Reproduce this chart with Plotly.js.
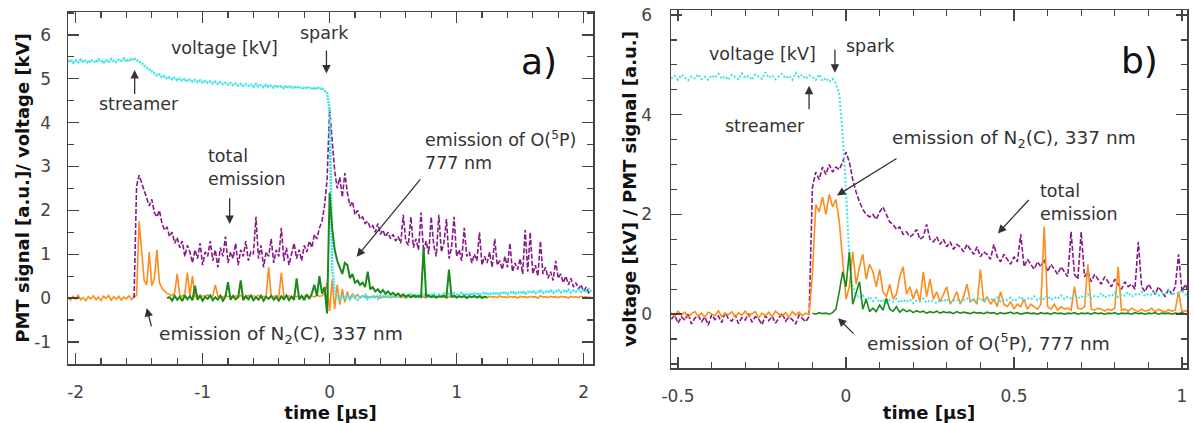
<!DOCTYPE html>
<html>
<head>
<meta charset="utf-8">
<script src="https://cdn.plot.ly/plotly-3.0.1.min.js"></script>
<style>html,body{margin:0;padding:0;background:#fff;}#chart{width:1193px;height:423px;}</style>
</head>
<body>
<div id="chart"></div>
<script>
// ---------- tick labels ----------
const xTicksA = [-2, -1, 0, 1, 2];
const xTickTextA = ['-2', '-1', '0', '1', '2'];
const yTicksA = [-1, 0, 1, 2, 3, 4, 5, 6];
const yTickTextA = ['-1', '0', '1', '2', '3', '4', '5', '6'];
const xTicksB = [-0.5, 0, 0.5, 1];
const xTickTextB = ['-0.5', '0', '0.5', '1'];
const yTicksB = [0, 2, 4, 6];
const yTickTextB = ['0', '2', '4', '6'];

// ---------- Panel a) : time grid step 0.02 µs ----------
const stepA = 0.02;
const startA_voltage = -2.06;
const startA_n2 = -2.06;
const startA_total = -1.54;
const startA_o = -1.28;

const voltageA = [
5.40,5.43,5.37,5.42,5.38,5.44,5.39,5.41,5.36,5.43,
5.40,5.38,5.44,5.41,5.37,5.42,5.39,5.45,5.40,5.38,
5.43,5.41,5.46,5.39,5.44,5.42,5.47,5.43,5.40,5.36,
5.30,5.26,5.20,5.16,5.12,5.08,5.10,5.04,5.06,5.01,
5.03,4.99,5.02,4.97,5.00,4.96,4.99,4.95,4.98,4.94,
4.97,4.93,4.96,4.92,4.95,4.91,4.94,4.90,4.93,4.89,
4.92,4.88,4.91,4.87,4.90,4.86,4.89,4.85,4.88,4.84,
4.87,4.84,4.86,4.82,4.88,4.83,4.85,4.81,4.86,4.82,
4.84,4.80,4.85,4.81,4.83,4.79,4.84,4.80,4.82,4.78,
4.83,4.79,4.81,4.77,4.82,4.78,4.80,4.76,4.81,4.77,
4.79,4.74,4.68,4.30,0.70,0.15,0.02,-0.05,0.04,-0.03,
0.05,-0.02,0.06,0.00,-0.04,0.05,0.01,0.07,-0.02,0.04,
0.02,0.06,-0.01,0.05,0.03,0.08,0.00,0.05,0.07,0.02,
0.06,0.03,0.08,0.01,0.06,0.09,0.04,0.07,0.02,0.08,
0.05,0.09,0.03,0.07,0.10,0.04,0.08,0.06,0.10,0.05,
0.09,0.06,0.11,0.05,0.08,0.12,0.07,0.10,0.06,0.11,
0.08,0.12,0.07,0.10,0.13,0.08,0.11,0.09,0.13,0.08,
0.12,0.10,0.14,0.09,0.12,0.15,0.10,0.13,0.11,0.15,
0.10,0.14,0.12,0.16,0.11,0.14,0.17,0.12,0.15,0.13,
0.17,0.12,0.15,0.18,0.13,0.16,0.14,0.19,0.13,0.17,
0.15,0.19,0.14,0.18,0.16,0.20,0.15];

const n2A = [
0.02,-0.05,0.04,-0.03,0.06,-0.04,0.01,-0.06,0.03,-0.02,
0.05,-0.04,0.02,-0.06,0.04,-0.01,0.06,-0.05,0.03,-0.03,
0.04,-0.05,0.02,-0.02,0.05,-0.04,0.03,0.06,1.75,1.15,
0.40,0.30,1.05,0.28,0.45,1.10,0.35,0.22,0.15,0.10,
0.08,0.05,0.12,0.55,0.06,0.04,0.10,0.58,0.05,0.50,
0.03,0.06,0.02,0.05,0.04,0.07,0.03,0.05,0.30,0.04,
0.05,0.02,0.06,0.03,0.04,0.02,0.05,0.03,0.06,0.02,
0.04,0.06,0.02,0.05,0.03,0.06,0.02,0.04,0.03,0.70,
0.05,0.03,0.06,0.02,0.58,0.04,0.03,0.05,0.02,0.04,
0.03,0.05,0.02,0.04,0.06,0.03,0.05,0.02,0.06,0.04,
0.05,0.10,0.35,-0.30,0.42,-0.25,0.30,-0.15,0.20,-0.10,
0.15,-0.05,0.10,0.02,0.08,0.00,0.05,0.02,0.04,0.01,
0.03,0.01,0.04,0.00,0.03,0.02,0.05,0.01,0.03,0.02,
0.04,0.01,0.03,0.00,0.04,0.02,0.03,0.01,0.05,0.02,
0.03,0.00,0.04,0.02,0.03,0.01,0.04,0.02,0.03,0.00,
0.04,0.02,0.03,0.01,0.05,0.02,0.03,0.00,0.04,0.02,
0.03,0.01,0.04,0.02,0.03,0.00,0.04,0.02,0.03,0.01,
0.05,0.02,0.03,0.01,0.04,0.02,0.03,0.00,0.04,0.02,
0.03,0.01,0.04,0.02,0.03,0.00,0.05,0.02,0.03,0.01,
0.04,0.02,0.03,0.01,0.04,0.02,0.03,0.00,0.04,0.02,
0.03,0.01,0.04,0.02,0.03,0.01,0.02];

const totalA = [
0.00,2.55,2.80,2.62,
2.45,2.30,2.10,2.25,1.95,1.85,2.00,1.70,1.55,1.62,
1.40,1.50,1.25,1.38,1.15,1.30,0.95,1.20,1.05,0.80,
1.10,0.90,1.25,0.75,1.05,0.95,1.30,0.85,1.10,0.70,
1.15,0.95,1.40,0.80,1.05,0.90,1.25,0.75,1.10,0.95,
1.30,0.85,1.05,1.00,1.85,0.90,1.20,0.70,1.05,0.95,
1.35,0.80,1.10,0.95,1.60,0.85,1.15,0.75,1.00,1.25,
0.90,1.10,0.85,1.20,1.05,1.30,1.15,1.45,1.35,1.60,
1.75,2.10,2.70,4.30,3.60,2.90,2.50,2.75,2.30,2.85,
2.40,2.10,2.20,1.90,2.00,1.80,1.85,1.70,1.75,1.60,
1.65,1.50,1.70,1.45,1.55,1.40,1.50,1.35,1.45,1.30,
1.40,1.25,1.90,1.30,1.20,1.85,1.15,1.35,1.10,1.95,
1.05,1.30,1.00,1.85,1.20,0.95,1.90,1.05,1.25,1.80,
0.90,1.15,1.85,0.95,1.10,0.85,1.60,0.95,1.05,0.80,
1.00,0.85,1.50,0.75,0.95,0.80,1.05,0.70,1.35,0.75,
0.85,0.65,0.95,0.70,1.25,0.60,0.80,0.65,0.90,0.55,
1.55,0.60,1.50,0.55,0.75,0.50,1.30,0.55,0.70,0.45,
0.60,0.40,0.85,0.45,0.55,0.35,0.50,0.30,0.45,0.25,
0.35,0.20,0.30,0.15,0.25,0.12,0.18];

const oA = [
0.00,
0.02,-0.06,0.05,-0.04,0.03,-0.07,0.06,-0.03,0.04,-0.05,
0.28,-0.04,0.05,-0.06,0.03,-0.02,0.06,-0.05,0.02,-0.04,
0.05,-0.06,0.03,0.36,-0.04,0.05,-0.03,0.02,0.40,-0.05,
0.04,-0.03,0.06,-0.05,0.02,-0.04,0.05,-0.06,0.03,-0.02,
0.05,-0.04,0.02,-0.06,0.04,-0.03,0.06,-0.05,0.03,-0.04,
0.45,-0.03,0.05,-0.05,0.08,-0.02,0.10,0.30,0.05,0.50,
0.10,0.25,-0.35,2.40,1.60,1.10,0.85,0.70,0.55,0.80,
0.75,0.45,0.55,0.35,0.40,0.30,0.35,0.25,0.60,0.20,
0.25,0.15,0.20,0.12,0.18,0.10,0.15,0.08,0.12,0.06,
0.10,0.04,0.08,0.03,0.07,0.02,0.06,0.03,0.05,0.02,
1.15,0.04,0.06,0.02,0.05,0.01,0.04,0.03,0.05,0.02,
0.65,0.03,0.05,0.01,0.04,0.02,0.05,0.00,0.04,0.02,
0.05,0.01,0.04,0.00,0.03,0.02];

// ---------- Panel b) : time grid step 0.01 µs ----------
const stepB = 0.01;
const startB_voltage = -0.52;
const startB_total = -0.52;
const startB_n2 = -0.52;
const startB_o = -0.10;

const voltageB = [
4.72,4.78,4.70,4.80,4.74,4.69,4.77,4.73,4.81,4.71,
4.76,4.70,4.79,4.74,4.82,4.72,4.77,4.70,4.80,4.75,
4.71,4.83,4.74,4.78,4.70,4.81,4.76,4.72,4.85,4.74,
4.79,4.71,4.77,4.82,4.73,4.78,4.70,4.84,4.75,4.80,
4.72,4.79,4.76,4.70,4.81,4.68,4.74,4.66,4.72,4.62,
4.40,3.60,2.50,1.10,0.55,0.40,0.32,0.38,0.28,0.35,
0.26,0.33,0.24,0.30,0.22,0.28,0.25,0.31,0.23,0.29,
0.24,0.30,0.22,0.27,0.25,0.31,0.23,0.28,0.26,0.22,
0.29,0.25,0.31,0.23,0.27,0.30,0.24,0.28,0.32,0.25,
0.30,0.26,0.33,0.24,0.29,0.31,0.27,0.34,0.25,0.30,
0.28,0.33,0.26,0.31,0.35,0.27,0.32,0.29,0.36,0.28,
0.33,0.30,0.37,0.29,0.34,0.31,0.38,0.30,0.35,0.32,
0.39,0.31,0.36,0.33,0.40,0.32,0.37,0.35,0.42,0.33,
0.38,0.36,0.43,0.34,0.39,0.37,0.44,0.35,0.40,0.38,
0.45,0.36,0.41,0.39,0.46,0.37,0.42,0.40,0.47,0.38,
0.43,0.41,0.48,0.39,0.44];

const totalB = [
-0.10,-0.02,-0.18,-0.05,-0.12,0.02,-0.20,-0.08,-0.03,-0.15,
-0.06,-0.22,-0.01,-0.11,-0.04,-0.17,0.03,-0.09,-0.14,-0.02,
-0.19,-0.07,-0.12,0.01,-0.16,-0.05,-0.10,-0.21,-0.03,-0.13,
-0.04,-0.18,-0.08,0.02,-0.14,-0.06,-0.11,-0.20,-0.02,-0.09,
-0.15,-0.05,2.55,2.85,2.70,2.95,2.80,3.00,2.85,2.95,
2.90,3.05,3.25,3.05,2.70,2.45,2.25,2.10,2.00,1.95,
2.00,1.90,2.05,2.15,2.00,1.85,1.80,1.70,1.75,1.60,
1.65,1.55,1.60,1.70,1.50,1.55,1.80,1.50,1.45,1.55,
1.40,1.50,1.35,1.45,1.30,1.40,1.35,1.25,1.40,1.30,
1.20,1.35,1.15,1.25,1.20,1.10,1.40,1.15,1.05,1.20,
1.10,1.00,1.15,1.05,1.60,0.95,1.10,1.00,0.90,1.05,
0.95,1.10,0.85,1.00,0.90,0.80,0.95,0.85,0.75,1.65,
0.80,0.70,1.65,0.75,0.85,0.65,0.80,0.70,0.60,0.75,
0.65,0.55,0.70,0.60,0.50,0.65,0.55,0.60,0.50,1.45,
0.55,0.45,0.60,0.50,0.40,0.55,0.45,0.35,0.50,0.40,
0.55,1.20,0.45,0.60,0.40];

const n2B = [
0.03,-0.05,0.06,-0.02,0.04,-0.07,0.01,0.05,-0.04,0.02,
-0.06,0.04,0.00,-0.03,0.07,-0.05,0.02,-0.01,0.05,-0.06,
0.03,-0.02,0.06,-0.04,0.01,0.05,-0.07,0.02,-0.03,0.04,
-0.05,0.06,0.00,-0.04,0.03,-0.06,0.05,-0.02,0.04,-0.03,
0.02,-0.01,0.80,2.20,2.05,2.35,2.00,2.40,2.15,2.30,
1.85,1.10,0.30,0.55,1.25,0.60,0.95,1.20,0.70,1.00,
0.85,0.55,0.90,0.45,0.35,0.60,0.30,0.40,0.75,0.95,
0.40,0.55,0.30,0.50,0.25,0.85,0.35,0.70,0.30,0.45,
0.25,0.40,0.55,0.20,0.30,0.45,0.20,0.35,0.60,0.25,
0.30,0.20,0.90,0.25,0.35,0.20,0.30,0.15,0.45,0.20,
0.15,0.25,0.10,0.20,0.15,0.30,0.10,0.20,0.15,0.10,
0.20,1.75,0.15,0.10,0.20,0.08,0.15,0.10,0.12,0.08,
0.55,0.12,0.10,0.15,1.00,0.10,0.08,0.12,0.10,0.06,
0.10,0.08,0.12,0.95,0.08,0.10,0.06,0.12,0.08,0.05,
0.10,0.06,0.08,0.12,0.05,0.10,0.07,0.04,0.09,0.06,
0.08,0.45,0.05,0.07,0.04];

const oB = [
0.02,0.00,0.03,0.01,0.02,0.00,0.03,0.10,
0.45,0.85,0.55,1.25,0.20,0.45,0.65,0.10,0.30,0.05,
0.12,0.05,0.18,0.08,0.32,0.10,0.06,0.15,0.04,0.10,
0.05,0.08,0.03,0.07,0.04,0.06,0.02,0.05,0.03,0.06,
0.02,0.05,0.03,0.04,0.01,0.05,0.02,0.04,0.03,0.01,
0.04,0.02,0.03,0.01,0.04,0.02,0.03,0.00,0.03,0.01,
0.02,0.04,0.01,0.03,0.00,0.02,0.03,0.01,0.02,0.00,
0.03,0.01,0.02,0.00,0.03,0.01,0.02,0.00,0.02,0.01,
0.03,0.00,0.02,0.01,0.02,0.00,0.03,0.01,0.02,0.00,
0.02,0.01,0.03,0.00,0.02,0.01,0.02,0.00,0.03,0.01,
0.02,0.00,0.02,0.01,0.03,0.00,0.02,0.01,0.02,0.00,
0.02,0.01,0.03,0.00,0.02];

// ---------- styling ----------
const cCyan = '#3fe3e6', cPurple = '#851a87', cOrange = '#ff8c1a', cGreen = '#1b8a1b';
const FONT = 'DejaVu Sans, Verdana, sans-serif';
const axisCol = '#444';
const ANN_SIZE = 17.5, ANN_SIZE_LONG = 18.5, TITLE_SIZE = 18;

function times(start, step, n) {
  const t = [];
  for (let i = 0; i < n; i++) t.push(Math.round((start + i * step) * 1000) / 1000);
  return t;
}
function tr(vals, start, step, color, width, dash, xa, ya) {
  return {x: times(start, step, vals.length), y: vals, type: 'scatter', mode: 'lines',
    line: {color: color, width: width, dash: dash}, xaxis: xa, yaxis: ya, hoverinfo: 'skip'};
}

const data = [
  tr(n2A, startA_n2, stepA, cOrange, 1.6, 'solid', 'x', 'y'),
  tr(totalA, startA_total, stepA, cPurple, 1.6, '5px,2px', 'x', 'y'),
  tr(voltageA, startA_voltage, stepA, cCyan, 2.6, '2px,1px', 'x', 'y'),
  tr(oA, startA_o, stepA, cGreen, 2, 'solid', 'x', 'y'),
  tr(totalB, startB_total, stepB, cPurple, 1.6, '5px,2px', 'x2', 'y2'),
  tr(n2B, startB_n2, stepB, cOrange, 1.6, 'solid', 'x2', 'y2'),
  tr(voltageB, startB_voltage, stepB, cCyan, 2, '2px,2px', 'x2', 'y2'),
  tr(oB, startB_o, stepB, cGreen, 1.6, 'solid', 'x2', 'y2')
];

function axis(extra) {
  return Object.assign({
    showgrid: false, zeroline: false, showline: true, linecolor: axisCol, linewidth: 1.5,
    mirror: 'ticks', ticks: 'inside', ticklen: 11, tickwidth: 1.3, tickcolor: axisCol,
    tickmode: 'array',
    tickfont: {family: FONT, size: 17, color: axisCol}, automargin: false
  }, extra);
}

const ann = [];
function txt(xr, yr, x, y, text, opts) {
  ann.push(Object.assign({xref: xr, yref: yr, x: x, y: y, text: text, showarrow: false,
    font: {family: FONT, size: ANN_SIZE, color: '#333'}, xanchor: 'center', yanchor: 'middle'}, opts || {}));
}
function arrow(xr, yr, x0, y0, x1, y1) {
  ann.push({xref: xr, yref: yr, axref: xr, ayref: yr, x: x1, y: y1, ax: x0, ay: y0, text: '',
    showarrow: true, arrowhead: 2, arrowsize: 1.3, arrowwidth: 1.3, arrowcolor: '#333', standoff: 0, startstandoff: 0});
}
const longFont = {family: FONT, size: ANN_SIZE_LONG, color: '#333'};
// panel a
txt('x', 'y', -0.83, 5.71, 'voltage [kV]');
txt('x', 'y', -1.50, 4.43, 'streamer');
arrow('x', 'y', -1.535, 4.62, -1.535, 5.2);
txt('x', 'y', -0.04, 6.05, 'spark');
arrow('x', 'y', -0.025, 5.68, -0.025, 5.12);
txt('x', 'y', 1.65, 5.39, 'a)', {font: {family: FONT, size: 36, color: '#111'}});
txt('x', 'y', -0.97, 2.97, 'total<br>emission', {xanchor: 'left', align: 'left'});
arrow('x', 'y', -0.787, 2.31, -0.787, 1.69);
txt('x', 'y', 0.732, 3.36, 'emission of O(<sup>5</sup>P)<br>777 nm', {xanchor: 'left', align: 'left'});
arrow('x', 'y', 0.724, 2.74, 0.213, 0.94);
txt('x', 'y', -1.362, -0.845, 'emission of N<sub>2</sub>(C), 337 nm', {xanchor: 'left', font: longFont});
arrow('x', 'y', -1.40, -0.68, -1.44, -0.23);
// panel b
txt('x2', 'y2', -0.25, 5.22, 'voltage [kV]');
txt('x2', 'y2', 0.074, 5.38, 'spark');
arrow('x2', 'y2', -0.033, 5.34, -0.033, 4.84);
txt('x2', 'y2', -0.24, 3.78, 'streamer');
arrow('x2', 'y2', -0.11, 4.08, -0.11, 4.58);
txt('x2', 'y2', 0.875, 5.08, 'b)', {font: {family: FONT, size: 36, color: '#111'}});
txt('x2', 'y2', 0.131, 3.52, 'emission of N<sub>2</sub>(C), 337 nm', {xanchor: 'left', font: longFont});
arrow('x2', 'y2', 0.155, 3.14, -0.027, 2.38);
txt('x2', 'y2', 0.571, 2.24, 'total<br>emission', {xanchor: 'left', align: 'left'});
arrow('x2', 'y2', 0.548, 2.32, 0.452, 1.62);
txt('x2', 'y2', 0.057, -0.56, 'emission of O(<sup>5</sup>P), 777 nm', {xanchor: 'left', font: longFont});
arrow('x2', 'y2', 0.027, -0.42, -0.024, -0.08);

const W = 1193, H = 423, ML = 68, MR = 6, MT = 10, MB = 55;
const IW = W - ML - MR, IH = H - MT - MB;
function dx(p0, p1) { return [(p0 - ML) / IW, (p1 - ML) / IW]; }
function dy(p0, p1) { return [(H - MB - p1) / IH, (H - MB - p0) / IH]; }
const titleFont = {family: FONT, size: TITLE_SIZE, color: '#111'};

const layout = {
  width: W, height: H, margin: {l: ML, r: MR, t: MT, b: MB, pad: 0},
  paper_bgcolor: '#fff', plot_bgcolor: '#fff', showlegend: false,
  xaxis: axis({domain: dx(68, 593), range: [-2.06, 2.074], tickvals: xTicksA, ticktext: xTickTextA, anchor: 'y',
    minor: {tickmode: 'linear', tick0: 0, dtick: 0.2, ticklen: 6, ticks: 'inside', tickcolor: axisCol, tickwidth: 1.2},
    ticklabelstandoff: 12,
    title: {text: '<b>time [µs]</b>', font: titleFont, standoff: 1}}),
  yaxis: axis({domain: dy(12, 364), range: [-1.505, 6.524], tickvals: yTicksA, ticktext: yTickTextA, anchor: 'x',
    minor: {tickmode: 'linear', tick0: 0, dtick: 0.5, ticklen: 6, ticks: 'inside', tickcolor: axisCol, tickwidth: 1.2},
    ticklabelstandoff: 12,
    title: {text: '<b>PMT signal [a.u.]/ voltage [kV]</b>', font: titleFont, standoff: 0}}),
  xaxis2: axis({domain: dx(671, 1187), range: [-0.521, 1.015], tickvals: xTicksB, ticktext: xTickTextB, anchor: 'y2',
    minor: {tickmode: 'linear', tick0: 0, dtick: 0.1, ticklen: 6, ticks: 'inside', tickcolor: axisCol, tickwidth: 1.2},
    ticklabelstandoff: 12,
    title: {text: '<b>time [µs]</b>', font: titleFont, standoff: 1}}),
  yaxis2: axis({domain: dy(10, 368), range: [-1.08, 6.10], tickvals: yTicksB, ticktext: yTickTextB, anchor: 'x2',
    minor: {tickmode: 'linear', tick0: 0, dtick: 0.5, ticklen: 6, ticks: 'inside', tickcolor: axisCol, tickwidth: 1.2},
    ticklabelstandoff: 14,
    title: {text: '<b>voltage [kV] / PMT signal [a.u.]</b>', font: titleFont, standoff: 0}}),
  annotations: ann
};

Plotly.newPlot('chart', data, layout, {staticPlot: true, displayModeBar: false});
</script>
</body>
</html>
